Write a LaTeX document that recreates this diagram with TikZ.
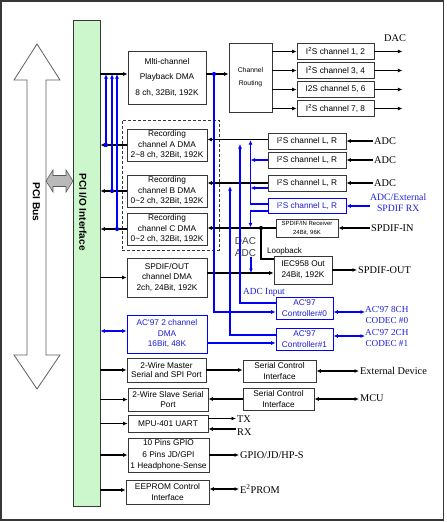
\documentclass[tikz,border=0pt]{standalone}
\usepackage{fontspec}
\setmainfont{Liberation Serif}
\setsansfont{Liberation Sans}
\usetikzlibrary{arrows.meta}
\definecolor{bl}{RGB}{0,0,255}
\definecolor{bltxt}{RGB}{30,30,215}
\definecolor{boxc}{RGB}{55,55,55}
\definecolor{pcig}{RGB}{204,246,204}
\tikzset{
 box/.style={draw=boxc, line width=0.8pt, fill=white, inner sep=0pt, align=center, font=\sffamily\fontsize{8.3}{10.5}\selectfont},
 bbox/.style={box, draw=bl, text=bltxt},
 arr/.style={line width=1.1pt, -{Latex[length=4.5pt,width=4pt]}},
 darr/.style={line width=1.1pt, {Latex[length=4.5pt,width=4pt]}-{Latex[length=4.5pt,width=4pt]}},
 ln/.style={line width=1.1pt},
 barr/.style={arr, color=bl},
 bdarr/.style={darr, color=bl},
 dot/.style={circle, fill, inner sep=0pt, minimum size=4.2pt},
 lbl/.style={font=\fontsize{10.3}{12}\selectfont, inner sep=1pt},
 blbl/.style={font=\fontsize{9.2}{10.5}\selectfont, text=bltxt, align=center, inner sep=0pt},
}
\begin{document}
\begin{tikzpicture}[x=1pt,y=-1pt]
\useasboundingbox (0,0) rectangle (447,522);
\draw[boxc, line width=1.2pt] (1,1) rectangle (443.5,520);

% PCI bus arrow
\draw[draw=gray!75!black, line width=0.8pt, fill=white] (37,44) -- (60,80) -- (46,80) -- (46,355) -- (60,355) -- (37,389) -- (14,355) -- (27,355) -- (27,80) -- (14,80) -- cycle;
\node[rotate=-90, font=\sffamily\bfseries\fontsize{10.2}{12}\selectfont, inner sep=0pt] (pcibus) at (36.5,202) {PCI Bus};

% PCI I/O interface
\node[draw=boxc, line width=0.8pt, fill=pcig, minimum width=27pt, minimum height=486pt, inner sep=0pt] (pci) at (86.5,263) {};
\node[rotate=-90, font=\sffamily\bfseries\fontsize{10}{12}\selectfont, inner sep=0pt] (pcilbl) at (83,212) {PCI I/O Interface};

% gray double arrow
\draw[draw=gray!70!black, fill=gray!55, line width=0.6pt] (46,181) -- (53,170) -- (53,175.5) -- (66,175.5) -- (66,170) -- (73,181) -- (66,192) -- (66,186.5) -- (53,186.5) -- (53,192) -- cycle;

% left column boxes
\node[box, minimum width=78pt, minimum height=53pt, font=\sffamily\fontsize{8.3}{15.5}\selectfont] (play) at (167,77.5) {Mlti-channel\\Playback DMA\\8 ch, 32Bit, 192K};
\node[draw=boxc, dashed, dash pattern=on 3pt off 2pt, line width=0.8pt, minimum width=97pt, minimum height=130pt, inner sep=0pt] (grp) at (170.5,185) {};
\node[box, minimum width=80pt, minimum height=32pt] (recA) at (167,145) {Recording\\channel A DMA\\2\textasciitilde 8 ch, 32Bit, 192K};
\node[box, minimum width=80pt, minimum height=32pt] (recB) at (167,191) {Recording\\channel B DMA\\0\textasciitilde 2 ch, 32Bit, 192K};
\node[box, minimum width=80pt, minimum height=32pt] (recC) at (167,229) {Recording\\channel C DMA\\0\textasciitilde 2 ch, 32Bit, 192K};
\node[box, minimum width=80pt, minimum height=39pt] (spdifdma) at (167,277.5) {SPDIF/OUT\\channel DMA\\2ch, 24Bit, 192K};
\node[bbox, minimum width=80pt, minimum height=38pt] (acdma) at (167,334) {AC\textquotesingle97 2 channel\\DMA\\16Bit, 48K};
\node[box, minimum width=79pt, minimum height=24pt, font=\sffamily\fontsize{8.3}{9.5}\selectfont] (master) at (166.5,370) {2-Wire Master\\Serial and SPI Port};
\node[box, minimum width=80pt, minimum height=23pt, font=\sffamily\fontsize{8.3}{9.5}\selectfont] (slave) at (168,399.5) {2-Wire Slave Serial\\Port};
\node[box, minimum width=80pt, minimum height=17pt] (mpu) at (168,423.5) {MPU-401 UART};
\node[box, minimum width=81pt, minimum height=34pt, font=\sffamily\fontsize{8.3}{11.5}\selectfont] (gpio) at (168.5,455) {10 Pins GPIO\\6 Pins JD/GPI\\1 Headphone-Sense};
\node[box, minimum width=83pt, minimum height=24pt, font=\sffamily\fontsize{8.3}{11}\selectfont] (eeprom) at (167.5,492) {EEPROM Control\\Interface};

% right boxes
\node[box, minimum width=43pt, minimum height=69pt, font=\sffamily\fontsize{6.8}{13}\selectfont] (routing) at (250.5,77.5) {Channel\\Routing};
\node[box, minimum width=77pt, minimum height=16.5pt] (i2s12) at (335.5,51.5) {I\textsuperscript{2}S channel 1, 2};
\node[box, minimum width=77pt, minimum height=16.5pt] (i2s34) at (335.5,70.5) {I\textsuperscript{2}S channel 3, 4};
\node[box, minimum width=77pt, minimum height=16.5pt] (i2s56) at (335.5,89.5) {I2S channel 5, 6};
\node[box, minimum width=77pt, minimum height=16.5pt] (i2s78) at (335.5,108.5) {I\textsuperscript{2}S channel 7, 8};
\node[box, minimum width=78pt, minimum height=16pt] (lr1) at (307,141) {I\textsuperscript{2}S channel L, R};
\node[box, minimum width=78pt, minimum height=16pt] (lr2) at (307,160) {I\textsuperscript{2}S channel L, R};
\node[box, minimum width=78pt, minimum height=16pt] (lr3) at (307,183) {I\textsuperscript{2}S channel L, R};
\node[bbox, minimum width=78pt, minimum height=15pt] (lr4) at (307,206) {I\textsuperscript{2}S channel L, R};
\node[box, minimum width=62pt, minimum height=18pt, font=\sffamily\fontsize{6}{9}\selectfont] (spdifin) at (307,228) {SPDIF/IN Receiver\\24Bit, 96K};
\node[box, minimum width=58pt, minimum height=28pt, font=\sffamily\fontsize{8.3}{11}\selectfont] (iec) at (303,270) {IEC958 Out\\24Bit, 192K};
\node[bbox, minimum width=57pt, minimum height=22pt, font=\sffamily\fontsize{8.3}{11}\selectfont] (ctrl0) at (304.5,308) {AC\textquotesingle97\\Controller\#0};
\node[bbox, minimum width=57pt, minimum height=22pt, font=\sffamily\fontsize{8.3}{11}\selectfont] (ctrl1) at (304.5,339) {AC\textquotesingle97\\Controller\#1};
\node[box, minimum width=73pt, minimum height=22pt, font=\sffamily\fontsize{8.3}{11}\selectfont] (sci1) at (279.5,371) {Serial Control\\Interface};
\node[box, minimum width=71pt, minimum height=22pt, font=\sffamily\fontsize{8.3}{11}\selectfont] (sci2) at (278.5,399) {Serial Control\\Interface};

% labels
\node[lbl] (dac) at (395,38) {DAC};
\node[lbl, anchor=west] (adc1) at (373,141) {ADC};
\node[lbl, anchor=west] (adc2) at (373,160) {ADC};
\node[lbl, anchor=west] (adc3) at (373,183) {ADC};
\node[blbl, font=\fontsize{9.7}{11}\selectfont, anchor=west] (extrx) at (370,203) {ADC/External\\SPDIF RX};
\node[lbl, anchor=west] (spin) at (370,228) {SPDIF-IN};
\node[lbl, anchor=west] (spout) at (357,270) {SPDIF-OUT};
\node[font=\sffamily\fontsize{8}{10}\selectfont, inner sep=0pt] (loop) at (284.5,251) {Loopback};
\node[font=\sffamily\fontsize{10}{12}\selectfont, text=black!75, inner sep=0pt] (dacl) at (245.5,241) {DAC};
\node[font=\sffamily\fontsize{10}{12}\selectfont, text=black!75, inner sep=0pt] (adcl) at (245.5,253) {ADC};
\node[blbl, font=\fontsize{9.3}{11}\selectfont] (adcin) at (264,292) {ADC Input};
\node[blbl, anchor=west] (codec0) at (365,315) {AC\textquotesingle97 8CH\\CODEC \#0};
\node[blbl, anchor=west] (codec1) at (365,338) {AC\textquotesingle97 2CH\\CODEC \#1};
\node[lbl, anchor=west] (extd) at (359,371) {External Device};
\node[lbl, anchor=west] (mcu) at (359,398) {MCU};
\node[lbl, anchor=west] (tx) at (236,419) {TX};
\node[lbl, anchor=west] (rx) at (236,432) {RX};
\node[lbl, anchor=west] (gpiol) at (239,455) {GPIO/JD/HP-S};
\node[lbl, anchor=west] (e2) at (239,489) {E\textsuperscript{2}PROM};

% helper x positions
\coordinate (xl1) at (106,0);
\coordinate (xl2) at (112,0);
\coordinate (xl3) at (117,0);
\coordinate (xa) at (214,0);
\coordinate (xb) at (230,0);
\coordinate (xc) at (240,0);
\coordinate (xd) at (250.5,0);
\coordinate (xlb) at (261,0);
\coordinate (pl) at ([yshift=3.5pt]play.west);
\coordinate (pr) at ([yshift=3.5pt]play.east);
\coordinate (iecin) at ([yshift=-3pt]iec.west);
\coordinate (c0a) at ([yshift=5pt]ctrl0.west);
\coordinate (c0b) at ([yshift=-4pt]ctrl0.west);
\coordinate (c1a) at ([yshift=4pt]ctrl1.west);
\coordinate (c1b) at ([yshift=-4pt]ctrl1.west);
\coordinate (l4a) at ([yshift=2pt]lr4.west);
\coordinate (l4b) at ([yshift=-5pt]lr4.west);

% left connectors
\draw[arr] (pl -| pci.east) -- (pl);
\draw[arr] (recA.west) -- (recA.west -| pci.east);
\draw[arr] (recB.west) -- (recB.west -| pci.east);
\draw[arr] (recC.west) -- (recC.west -| pci.east);
\draw[arr] (pci.east |- spdifdma.west) -- (spdifdma.west);
\draw[bdarr] ([yshift=3pt]acdma.west -| pci.east) -- ([yshift=3pt]acdma.west);
\draw[arr] (pci.east |- master.west) -- (master.west);
\draw[arr] (pci.east |- slave.west) -- (slave.west);
\draw[arr] (pci.east |- mpu.west) -- (mpu.west);
\draw[arr] (pci.east |- gpio.west) -- (gpio.west);
\draw[arr] ([yshift=2pt]eeprom.west -| pci.east) -- ([yshift=2pt]eeprom.west);
\node[dot, bl] (da) at (recA.west -| xl1) {};
\node[dot, bl] (db) at (recB.west -| xl2) {};
\node[dot, bl] (dc) at (recC.west -| xl3) {};
\draw[barr] (da.center) -- (da.center |- pl);
\draw[barr] (db.center) -- (db.center |- pl);
\draw[barr] (dc.center) -- (dc.center |- pl);

% playback to routing and I2S outputs
\draw[arr] (pr) -- (pr -| routing.west);
\draw[arr] (routing.east |- i2s12.west) -- (i2s12.west);
\draw[arr] (routing.east |- i2s34.west) -- (i2s34.west);
\draw[arr] (routing.east |- i2s56.west) -- (i2s56.west);
\draw[arr] (routing.east |- i2s78.west) -- (i2s78.west);
\draw[arr] (i2s12.east) -- ++(28,0);
\draw[arr] (i2s34.east) -- ++(28,0);
\draw[arr] (i2s56.east) -- ++(28,0);
\draw[arr] (i2s78.east) -- ++(28,0);

% record inputs
\draw[arr] ([yshift=1.5pt]lr1.west) -- ([yshift=1.5pt]lr1.west -| recA.east);
\draw[arr] (lr3.west) -- (lr3.west -| recB.east);
\draw[arr] (spdifin.west) -- (spdifin.west -| recC.east);
\draw[arr] (adc1.west) -- (lr1.east);
\draw[arr] (adc2.west) -- (lr2.east);
\draw[arr] (adc3.west) -- (lr3.east);
\draw[barr] (extrx.west |- lr4.east) -- (lr4.east);
\draw[arr] (spin.west) -- (spdifin.east);

% loopback and SPDIF out
\node[dot] (lbd) at (spdifin.west -| xlb) {};
\draw[ln] (lbd.center) |- ([yshift=11pt]iec.west);
\draw[arr] (spdifdma.east |- iecin) -- (iecin);
\draw[arr] (iec.east) -- (spout.west);

% blue network
\node[dot, bl] (dp) at (pr -| xa) {};
\draw[barr] (dp.center) |- (c0b);
\draw[barr] (c1a) -| ([yshift=-3pt]lr3.west -| xb);
\draw[barr] (c0a) -| ([yshift=-3pt]lr1.west -| xc);
\draw[barr] (l4a) -| ([yshift=0.8pt]lr1.west -| xd);
\draw[barr] (l4b) -| ([yshift=0.6pt]spdifin.west -| xd);
\draw[barr] (lr2.west) -- (lr2.west -| xd);
\draw[barr] ([yshift=-5pt]lr3.west) -- ([yshift=-5pt]lr3.west -| xd);
\draw[barr] ([xshift=0.5pt]adcl.south -| xd) -- ([xshift=0.5pt]iecin -| xd);
\draw[barr] (acdma.east |- c1b) -- (c1b);
\draw[bdarr] ([yshift=-4pt]ctrl0.east) -- ([yshift=-4pt]ctrl0.east -| codec0.west);
\draw[bdarr] ([yshift=3pt]ctrl1.east) -- ([yshift=3pt]ctrl1.east -| codec1.west);

% bottom right
\draw[arr] (master.east) -- (master.east -| sci1.west);
\draw[arr] (sci2.west) -- (sci2.west -| slave.east);
\draw[darr] (sci1.east) -- (sci1.east -| extd.west);
\draw[darr] (sci2.east) -- (sci2.east -| mcu.west);
\draw[arr] ([yshift=5pt]mpu.east) -- ([yshift=5pt]mpu.east -| tx.west);
\draw[arr] ([yshift=-5.5pt]mpu.east -| tx.west) -- ([yshift=-5.5pt]mpu.east);
\draw[arr] (gpio.east) -- (gpiol.west);
\draw[darr] (eeprom.east |- e2.west) -- (e2.west);
\end{tikzpicture}
\end{document}
